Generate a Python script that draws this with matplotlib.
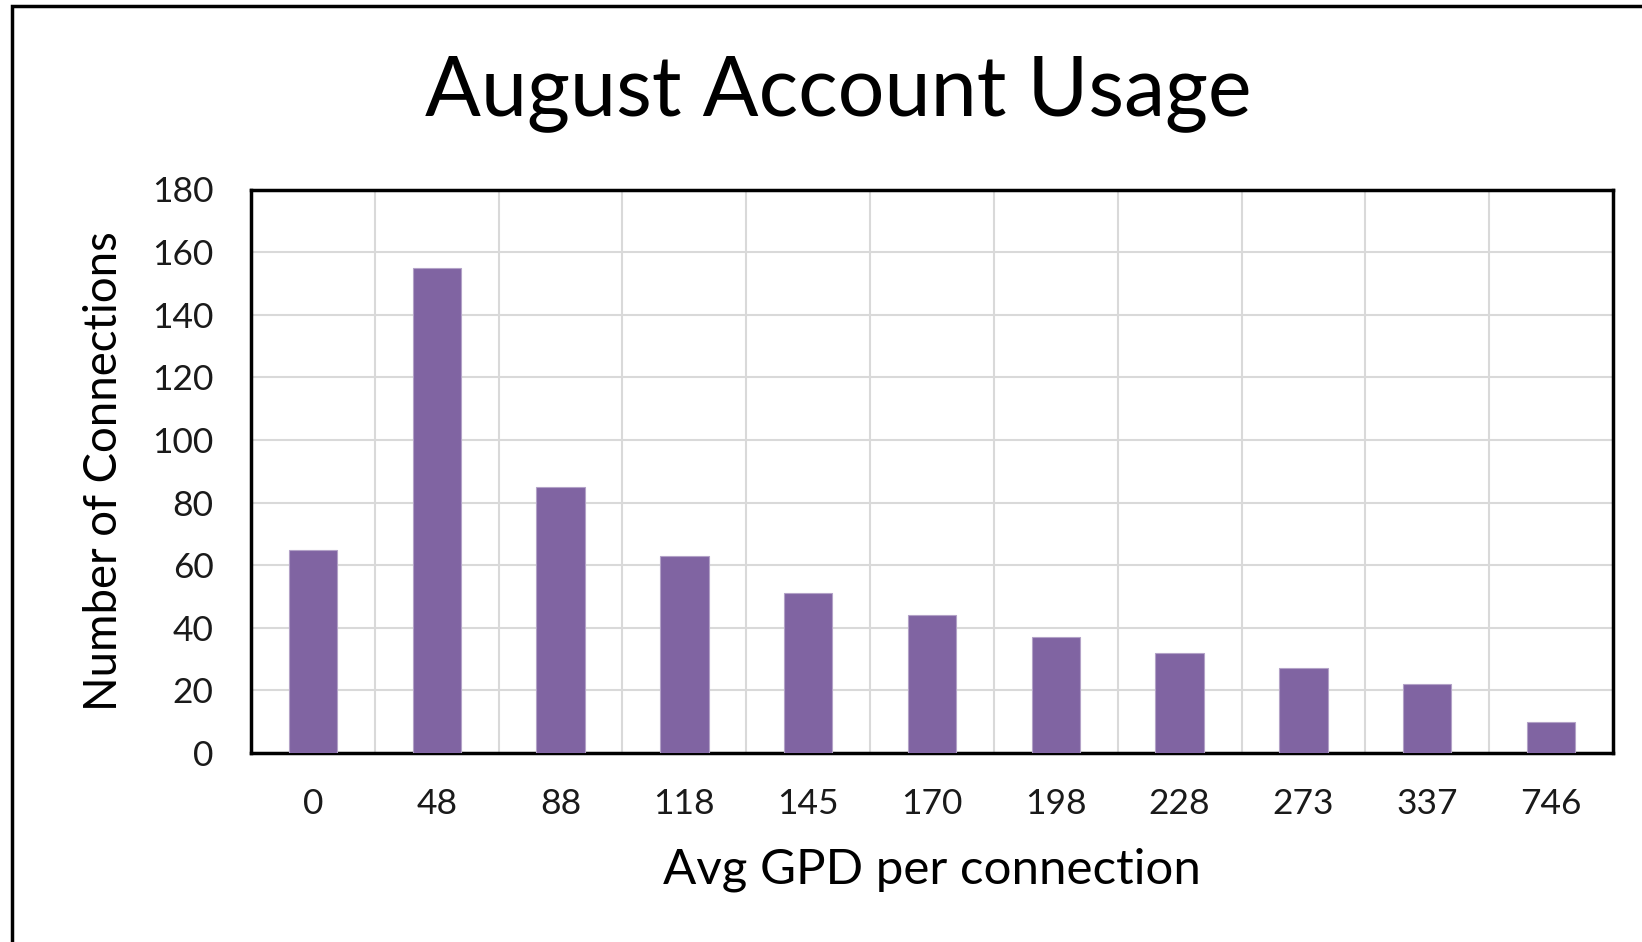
import matplotlib.pyplot as plt
from matplotlib.patches import Rectangle
import numpy as np

# ============== Données ===================
gpd_labels = ["0", "48", "88", "118", "145", "170", "198", "228", "273", "337", "746"]
connections = [65, 155, 85, 63, 51, 44, 37, 32, 27, 22, 10]
y_ticks = [0, 20, 40, 60, 80, 100, 120, 140, 160, 180]

bar_color = "#8064A2"
grid_color = "#D9D9D9"

plt.rcParams["font.family"] = ["Lato", "DejaVu Sans"]

# ============== Figure ===================
fig = plt.figure(figsize=(16.42, 9.42), dpi=100)
W, H = 1642, 942

# cadre extérieur (bords droit/bas coupés dans l'original)
fig.patches.append(
    Rectangle((12 / W, -0.1), 1.2, 1.1 - 6 / H, transform=fig.transFigure,
              fill=False, edgecolor="black", linewidth=2.5)
)

ax = fig.add_axes([251 / W, 189 / H, (1613 - 251) / W, (753 - 189.5) / H])

x = np.arange(len(gpd_labels))
ax.bar(x, connections, width=0.39, color=bar_color, edgecolor="#B3A2C7",
       linewidth=0.8, zorder=3)

ax.set_xlim(-0.5, len(gpd_labels) - 0.5)
ax.set_ylim(0, 180)
ax.set_yticks(y_ticks)
ax.set_xticks(x)
ax.set_xticklabels(gpd_labels)
ax.set_xticks(x[:-1] + 0.5, minor=True)

ax.grid(True, which="major", axis="y", color=grid_color, linewidth=1.5, zorder=0)
ax.grid(True, which="minor", axis="x", color=grid_color, linewidth=1.5, zorder=0)

for s in ax.spines.values():
    s.set_linewidth(2.5)
    s.set_color("black")

ax.tick_params(axis="both", which="both", length=0, labelsize=25.5, colors="#1a1a1a")
ax.tick_params(axis="y", pad=27)
ax.tick_params(axis="x", pad=25)

# ============== Textes ===================
fig.text(838 / W, 1 - 115 / H, "August Account Usage", fontsize=59.5,
         ha="center", va="baseline", color="black")
fig.text(932 / W, 1 - 884 / H, "Avg GPD per connection", fontsize=35.5,
         ha="center", va="baseline", color="black")
fig.text(83 / W, 1 - 471 / H, "Number of Connections", fontsize=32.8,
         rotation=90, ha="left", va="center", color="black")

fig.savefig("out.png", dpi=100, facecolor="white")
